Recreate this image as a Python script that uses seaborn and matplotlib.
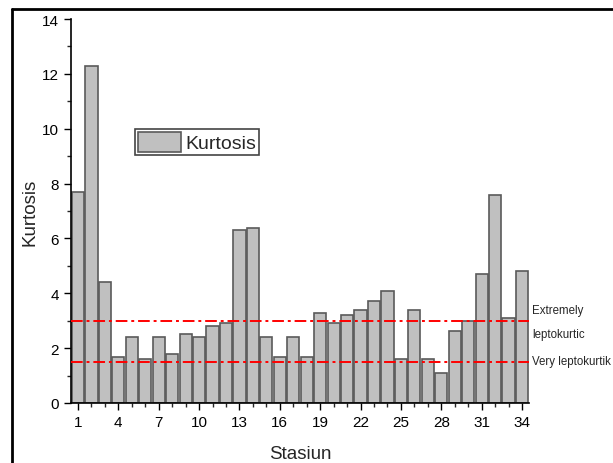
import numpy as np
import pandas as pd
import seaborn as sns
import matplotlib.pyplot as plt
from matplotlib.lines import Line2D
from matplotlib.ticker import MultipleLocator, FixedLocator

stations = list(range(1, 35))
kurtosis = [7.70, 12.30, 4.41, 1.69, 2.39, 1.59, 2.39, 1.80, 2.50, 2.39,
            2.79, 2.90, 6.29, 6.39, 2.39, 1.69, 2.39, 1.69, 3.28, 2.90,
            3.21, 3.39, 3.71, 4.10, 1.59, 3.39, 1.59, 1.08, 2.61, 3.00,
            4.69, 7.59, 3.11, 4.80]
x_ticks = [1, 4, 7, 10, 13, 16, 19, 22, 25, 28, 31, 34]
extreme_level = 3.0
very_level = 1.5

sns.set_theme(style="ticks")
plt.rcParams['font.family'] = ['Liberation Sans', 'DejaVu Sans']

df = pd.DataFrame({"Stasiun": stations, "Kurtosis": kurtosis})

fig = plt.figure(figsize=(6.13, 4.64), dpi=100)
ax = fig.add_axes([71 / 613, 1 - 404 / 464, (529 - 71) / 613, (404 - 20) / 464])

sns.barplot(data=df, x="Stasiun", y="Kurtosis", native_scale=True, width=0.9,
            color="#c0c0c0", edgecolor="#5a5a5a", linewidth=1.2, saturation=1,
            label="Kurtosis", ax=ax)

ax.set_xlim(0.48, 34.52)
ax.set_ylim(0, 14)

# classification thresholds
for lvl in (extreme_level, very_level):
    ax.axhline(lvl, color="red", linestyle=(0, (6, 2, 1.5, 2)), linewidth=1.4, zorder=3)

lab_kw = dict(fontsize=8.3, va="center", ha="left", clip_on=False)
ax.text(34.75, 3.39, "Extremely", **lab_kw)
ax.text(34.75, 2.52, "leptokurtic", **lab_kw)
ax.text(34.75, 1.53, "Very leptokurtik", **lab_kw)

ax.xaxis.set_major_locator(FixedLocator(x_ticks))
ax.xaxis.set_minor_locator(MultipleLocator(1))
ax.yaxis.set_major_locator(MultipleLocator(2))
ax.yaxis.set_minor_locator(MultipleLocator(1))
ax.tick_params(axis="both", which="major", direction="out", length=5, width=1,
               labelsize=11, colors="black")
ax.tick_params(axis="both", which="minor", direction="out", length=3, width=1)

sns.despine(ax=ax)
for s in ("left", "bottom"):
    ax.spines[s].set_color("black")
    ax.spines[s].set_linewidth(1.2)

ax.set_xlabel("Stasiun", fontsize=13.5, labelpad=12)
ax.set_ylabel("Kurtosis", fontsize=13.5, labelpad=3)

leg = ax.legend(loc="upper left", bbox_to_anchor=((135 - 71) / 458, 1 - (130 - 20) / 384),
                fontsize=14, fancybox=False, framealpha=1, edgecolor="#444444",
                handlelength=2.2, handleheight=1.2, handletextpad=0.25,
                borderpad=0.15, borderaxespad=0)
leg.get_frame().set_linewidth(1.2)

# outer frame
fig.add_artist(Line2D([12 / 613, 12 / 613], [0, 1 - 10 / 464], color="black", lw=2))
fig.add_artist(Line2D([12 / 613, 1], [1 - 10 / 464, 1 - 10 / 464], color="black", lw=2))

fig.savefig("out.png", dpi=100)
